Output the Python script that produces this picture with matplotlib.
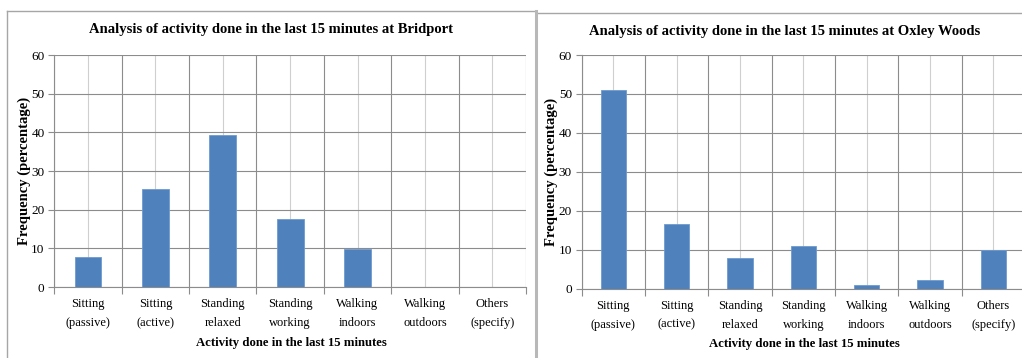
import matplotlib.pyplot as plt
from matplotlib.lines import Line2D
import numpy as np

activities = ["Sitting\n(passive)", "Sitting\n(active)", "Standing\nrelaxed",
              "Standing\nworking", "Walking\nindoors", "Walking\noutdoors",
              "Others\n(specify)"]
bridport = [7.7, 25.4, 39.2, 17.5, 9.7, 0, 0]
oxley_woods = [51.0, 16.7, 7.8, 11.0, 1.0, 2.2, 10.0]
y_ticks = [0, 10, 20, 30, 40, 50, 60]

W, H = 1022, 358
BAR = "#4f81bd"
MAJOR = "#8c8c8c"
MINOR = "#cfcfcf"

plt.rcParams['font.family'] = ['Liberation Serif', 'DejaVu Serif']

fig = plt.figure(figsize=(W / 100, H / 100), dpi=100)


def px_axes(x0, x1, y0, y1):
    # pixel box (top-left origin) -> figure fraction
    return fig.add_axes([x0 / W, 1 - y1 / H, (x1 - x0) / W, (y1 - y0) / H])


def fig_text(x, y, s, **kw):
    fig.text(x / W, 1 - y / H, s, ha='center', va='center', **kw)


def draw_panel(ax, values):
    x = np.arange(len(activities))
    ax.bar(x, values, width=0.4, color=BAR, edgecolor="#6f9ad0",
           linewidth=0.6, zorder=3)
    ax.set_xlim(-0.5, len(activities) - 0.5)
    ax.set_ylim(0, 60)
    ax.set_yticks(y_ticks)
    ax.set_xticks(np.arange(len(activities) + 1) - 0.5)
    ax.set_xticklabels([])
    ax.set_xticks(x, minor=True)
    ax.set_xticklabels(activities, minor=True, fontsize=9, linespacing=1.75)
    ax.tick_params(axis='x', which='major', length=5, color=MAJOR, width=0.8)
    ax.tick_params(axis='x', which='minor', length=0, pad=8)
    ax.tick_params(axis='y', length=4, color=MAJOR, width=0.8, labelsize=9.5,
                   pad=3)
    ax.grid(True, axis='y', color=MAJOR, linewidth=0.8, zorder=0)
    ax.grid(True, axis='x', which='major', color=MAJOR, linewidth=0.8, zorder=0)
    ax.grid(True, axis='x', which='minor', color=MINOR, linewidth=0.8, zorder=0)
    for side in ['top', 'right']:
        ax.spines[side].set_visible(False)
    for side in ['left', 'bottom']:
        ax.spines[side].set_color(MAJOR)
        ax.spines[side].set_linewidth(0.8)


ax1 = px_axes(54.3, 526, 55, 287)
draw_panel(ax1, bridport)
ax2 = px_axes(581.7, 1025, 55, 288.7)
draw_panel(ax2, oxley_woods)

title_kw = dict(fontsize=10.5, fontweight='bold')
fig_text(271, 30, "Analysis of activity done in the last 15 minutes at Bridport",
         **title_kw)
fig_text(785, 32, "Analysis of activity done in the last 15 minutes at Oxley Woods",
         **title_kw)

label_kw = dict(fontsize=9.2, fontweight='bold')
fig_text(291, 343, "Activity done in the last 15 minutes", **label_kw)
fig_text(804, 344, "Activity done in the last 15 minutes", **label_kw)
ylab_kw = dict(fontsize=10.5, fontweight='bold', rotation=90)
fig_text(24, 171, "Frequency (percentage)", **ylab_kw)
fig_text(551, 172, "Frequency (percentage)", **ylab_kw)

# panel frames
frame = dict(transform=fig.transFigure, color="#a6a6a6", linewidth=1)
fig.add_artist(Line2D([7 / W, 7 / W], [0, 1 - 11 / H], **frame))
fig.add_artist(Line2D([7 / W, 535 / W], [1 - 11 / H, 1 - 11 / H], **frame))
fig.add_artist(Line2D([537 / W, 1], [1 - 13 / H, 1 - 13 / H], **frame))
fig.add_artist(Line2D([535.5 / W, 535.5 / W], [0, 1 - 11 / H],
                      transform=fig.transFigure, color="#b8b8b8", linewidth=2.2))

fig.savefig("out.png", dpi=100)
